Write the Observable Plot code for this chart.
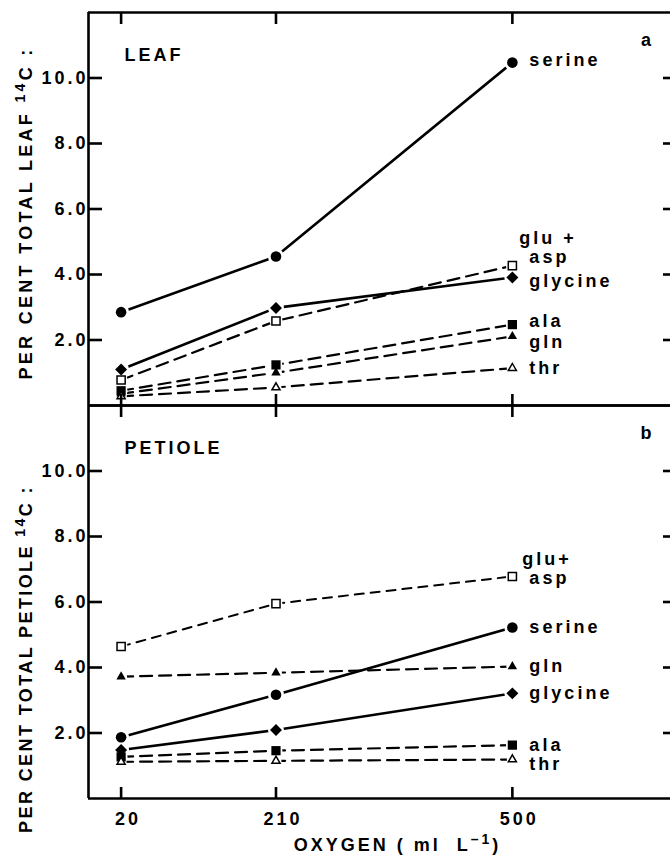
<!DOCTYPE html>
<html>
<head>
<meta charset="utf-8">
<script src="https://cdn.jsdelivr.net/npm/d3@7"></script>
<script src="https://cdn.jsdelivr.net/npm/@observablehq/plot@0.6"></script>
<style>
  body { margin: 0; background: #fff; }
  #chart svg text { font-family: "Liberation Sans", Arial, sans-serif; font-weight: bold; letter-spacing: 3px; }
</style>
</head>
<body>
<div id="chart"></div>
<script>
// ---------- data ----------
const oxygen = [20, 210, 500];
const panels = ["leaf", "petiole"];
const seriesNames = ["serine", "glycine", "glu+asp", "ala", "gln", "thr"];

const leafSerine  = [2.85, 4.55, 10.47];
const leafGlycine = [1.10, 2.98, 3.91];
const leafGluAsp  = [0.78, 2.58, 4.27];
const leafAla     = [0.45, 1.24, 2.47];
const leafGln     = [0.36, 1.00, 2.11];
const leafThr     = [0.28, 0.55, 1.14];

const petioleSerine  = [1.87, 3.17, 5.22];
const petioleGlycine = [1.48, 2.09, 3.21];
const petioleGluAsp  = [4.64, 5.95, 6.78];
const petioleAla     = [1.27, 1.46, 1.63];
const petioleGln     = [3.72, 3.84, 4.03];
const petioleThr     = [1.12, 1.15, 1.19];

const yTicks = [2, 4, 6, 8, 10];
const yTickLabels = ["2.0", "4.0", "6.0", "8.0", "10.0"];
const xTickLabels = ["20", "210", "500"];
const panelTitles = ["LEAF", "PETIOLE"];
const panelLetters = ["a", "b"];
const yTitles = ["PER CENT TOTAL LEAF \u00B9\u2074C :", "PER CENT TOTAL PETIOLE \u00B9\u2074C :"];
const xTitle = "OXYGEN ( ml  L\u207B\u00B9)";
const seriesLabels = ["serine", "glycine", "asp", "ala", "gln", "thr"];
const gluPlusLabels = ["glu +", "glu+"];

// ---------- tidy rows built from the arrays ----------
const seriesData = {
  leaf: [leafSerine, leafGlycine, leafGluAsp, leafAla, leafGln, leafThr],
  petiole: [petioleSerine, petioleGlycine, petioleGluAsp, petioleAla, petioleGln, petioleThr]
};
const rows = [];
panels.forEach(p => seriesNames.forEach((s, si) => oxygen.forEach((o, oi) =>
  rows.push({panel: p, series: s, oxygen: o, value: seriesData[p][si][oi]}))));

// ---------- styles ----------
const seriesStyle = {
  "serine":  {symbol: "circle",   r: 5.3, fill: "black", halo: 8,   dash: null,  width: 2.6},
  "glycine": {symbol: "diamond2", r: 5.4, fill: "black", halo: 8,   dash: null,  width: 2.6},
  "glu+asp": {symbol: "square",   r: 4.6, fill: "white", halo: 6.5, dash: "12,7", width: 2.2},
  "ala":     {symbol: "square",   r: 5.2, fill: "black", halo: 6.5, dash: "12,7", width: 2.2},
  "gln":     {symbol: "triangle", r: 3.5, fill: "black", halo: 6,   dash: "12,7", width: 2.2},
  "thr":     {symbol: "triangle", r: 3.0, fill: "white", halo: 5.5, dash: "12,7", width: 2.2}
};
const petioleGluDash = "9,7";
const labelNudge = {
  leaf:    {"serine": [17, -2], "glycine": [17, 4], "glu+asp": [17, -8], "ala": [17, -3], "gln": [17, 6], "thr": [17, 0], top: [7, -27]},
  petiole: {"serine": [17, 0],  "glycine": [17, 0], "glu+asp": [17, 2],  "ala": [17, 0], "gln": [17, 0], "thr": [17, 5], top: [10, -17]}
};
const xDomain = [-20, 694];
const txt = {fontSize: 18, lineAnchor: "middle"};

// ---------- marks ----------
const marks = [];

// lines
panels.forEach(p => seriesNames.forEach(s => {
  const st = seriesStyle[s];
  const special = p === "petiole" && s === "glu+asp";
  marks.push(Plot.line(rows.filter(d => d.panel === p && d.series === s), {
    x: "oxygen", y: "value", fy: "panel", stroke: "black",
    strokeWidth: special ? 2 : st.width,
    strokeDasharray: special ? petioleGluDash : st.dash
  }));
}));
// white halos around markers (gap between line and symbol)
seriesNames.forEach(s => {
  marks.push(Plot.dot(rows.filter(d => d.series === s), {
    x: "oxygen", y: "value", fy: "panel", r: seriesStyle[s].halo, fill: "white", stroke: "none"
  }));
});
// markers
seriesNames.forEach(s => {
  const st = seriesStyle[s];
  marks.push(Plot.dot(rows.filter(d => d.series === s), {
    x: "oxygen", y: "value", fy: "panel", symbol: st.symbol, r: st.r,
    fill: st.fill, stroke: st.fill === "white" ? "black" : "none", strokeWidth: 1.5
  }));
});

// frame lines (left, top, bottom of each panel)
marks.push(Plot.ruleY([0, 12], {stroke: "black", strokeWidth: 2.6}));
marks.push(Plot.ruleX([xDomain[0]], {stroke: "black", strokeWidth: 2.6}));

// inward ticks
marks.push(Plot.axisY({anchor: "left", ticks: yTicks, tickSize: -14, tickFormat: () => "", label: null, strokeWidth: 2.6}));
marks.push(Plot.axisY({anchor: "right", ticks: yTicks, tickSize: -8, tickFormat: () => "", label: null, strokeWidth: 2.6}));
marks.push(Plot.axisX({anchor: "top", ticks: oxygen, tickSize: -11, tickFormat: () => "", label: null, strokeWidth: 2.6, facetAnchor: null}));
marks.push(Plot.axisX({anchor: "bottom", ticks: oxygen, tickSize: -11, tickFormat: () => "", label: null, strokeWidth: 2.6, facetAnchor: null}));

// tick labels
marks.push(Plot.axisY({anchor: "left", ticks: yTicks, tickSize: 0, tickPadding: 0, label: null,
  tickFormat: d => yTickLabels[yTicks.indexOf(d)], fontSize: 18}));
marks.push(Plot.axisX({anchor: "bottom", ticks: oxygen, tickSize: 0, tickPadding: 14, dx: 7, label: null,
  tickFormat: d => xTickLabels[oxygen.indexOf(d)], fontSize: 18}));

// panel titles and letters
marks.push(Plot.text(panels.map((p, i) => ({panel: p, t: panelTitles[i]})), {
  fy: "panel", text: "t", frameAnchor: "top-left", dx: 36, dy: 43, textAnchor: "start", ...txt}));
marks.push(Plot.text(panels.map((p, i) => ({panel: p, t: panelLetters[i]})), {
  fy: "panel", text: "t", frameAnchor: "top-right", dx: -23, dy: 28, textAnchor: "middle", ...txt}));

// y titles
marks.push(Plot.text([{panel: "leaf", t: yTitles[0]}], {
  fy: "panel", text: "t", frameAnchor: "left", rotate: -90, dx: -62, dy: 4, textAnchor: "middle", ...txt,
  ariaDescription: "ytitle-leaf"}));
marks.push(Plot.text([{panel: "petiole", t: yTitles[1]}], {
  fy: "panel", text: "t", frameAnchor: "left", rotate: -90, dx: -62, dy: 57, textAnchor: "middle", ...txt,
  ariaDescription: "ytitle-petiole"}));

// x title
marks.push(Plot.text([{panel: "petiole", t: xTitle}], {
  fy: "panel", text: "t", frameAnchor: "bottom", dx: 18, dy: 47, textAnchor: "middle", ...txt}));

// series labels at 500
panels.forEach((p, pi) => {
  seriesNames.forEach((s, si) => {
    const [dx, dy] = labelNudge[p][s];
    marks.push(Plot.text(rows.filter(d => d.panel === p && d.series === s && d.oxygen === oxygen[2]), {
      x: "oxygen", y: "value", fy: "panel", text: () => seriesLabels[si],
      dx, dy, textAnchor: "start", ...txt}));
  });
  const [tdx, tdy] = labelNudge[p].top;
  marks.push(Plot.text(rows.filter(d => d.panel === p && d.series === "glu+asp" && d.oxygen === oxygen[2]), {
    x: "oxygen", y: "value", fy: "panel", text: () => gluPlusLabels[pi],
    dx: tdx, dy: tdy, textAnchor: "start", ...txt}));
});

const chart = Plot.plot({
  width: 670,
  height: 857,
  marginLeft: 88,
  marginRight: 0,
  marginTop: 12,
  marginBottom: 59,
  x: {domain: xDomain, axis: null},
  y: {domain: [0, 12], axis: null},
  fy: {domain: panels, padding: 0, axis: null},
  marks
});
document.getElementById("chart").append(chart);

d3.select(chart).selectAll('g[aria-description="ytitle-leaf"] text').style("letter-spacing", "3.3px");
d3.select(chart).selectAll('g[aria-description="ytitle-petiole"] text').style("letter-spacing", "2.4px");

// render Unicode superscripts as real raised tspans (text stays text)
const supMap = {"\u00B9": "1", "\u2074": "4", "\u207B": "\u2013"};
d3.select(chart).selectAll("text").each(function () {
  const s = this.textContent;
  if (![...s].some(c => c in supMap)) return;
  const runs = [];
  for (const c of s) {
    const sup = c in supMap;
    const ch = sup ? supMap[c] : c;
    if (runs.length && runs[runs.length - 1].sup === sup) runs[runs.length - 1].t += ch;
    else runs.push({sup, t: ch});
  }
  const el = d3.select(this);
  el.text("");
  let raised = false;
  runs.forEach(r => {
    const ts = el.append("tspan").text(r.t);
    if (r.sup) { ts.attr("dy", -7).style("font-size", "14px"); raised = true; }
    else if (raised) { ts.attr("dy", 7); raised = false; }
  });
});
</script>
</body>
</html>
